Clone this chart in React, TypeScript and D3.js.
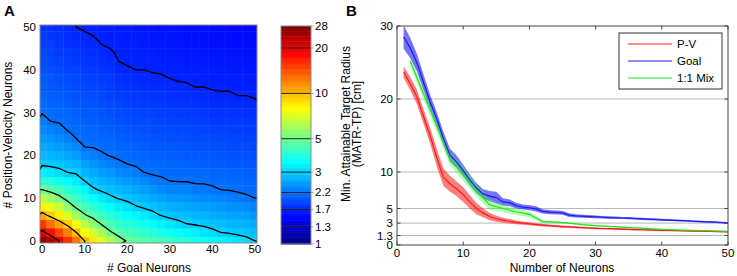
import React from 'react';
import * as d3 from 'd3';

// ---------- Panel A data ----------
const goalNeurons = [0, 2, 4, 6, 8, 10, 12, 14, 16, 18, 20, 22, 24, 26, 28, 30, 32, 34, 36, 38, 40, 42, 44, 46, 48, 50];
const pvNeurons = [0, 2, 4, 6, 8, 10, 12, 14, 16, 18, 20, 22, 24, 26, 28, 30, 32, 34, 36, 38, 40, 42, 44, 46, 48, 50];
// MATR-TP [cm]; one array per goal-neuron count, values along P-V neuron count (0..50)
const matrByGoal: number[][] = [
  [27, 21.4, 15.4, 10.9, 8.3, 6.4, 5.0, 4.07, 3.33, 2.93, 2.78, 2.65, 2.52, 2.40, 2.28, 2.19, 2.15, 2.10, 2.06, 2.02, 1.98, 1.95, 1.91, 1.87, 1.84, 1.80],
  [24, 17.8, 12.8, 9.4, 7.4, 5.8, 4.69, 3.89, 3.23, 2.90, 2.74, 2.60, 2.46, 2.32, 2.20, 2.16, 2.11, 2.07, 2.03, 2.00, 1.96, 1.92, 1.88, 1.85, 1.81, 1.78],
  [20, 14.8, 10.9, 8.5, 6.7, 5.3, 4.4, 3.71, 3.13, 2.87, 2.70, 2.55, 2.40, 2.27, 2.18, 2.13, 2.09, 2.05, 2.01, 1.97, 1.93, 1.89, 1.86, 1.82, 1.79, 1.75],
  [15.8, 12.2, 9.4, 7.3, 5.7, 4.65, 4.02, 3.47, 3.0, 2.81, 2.63, 2.47, 2.31, 2.19, 2.14, 2.10, 2.06, 2.02, 1.98, 1.94, 1.90, 1.87, 1.83, 1.79, 1.76, 1.72],
  [12.6, 10, 7.8, 6.0, 4.84, 4.26, 3.75, 3.30, 2.94, 2.74, 2.55, 2.37, 2.2, 2.15, 2.11, 2.07, 2.03, 1.99, 1.95, 1.91, 1.88, 1.84, 1.80, 1.77, 1.73, 1.70],
  [10, 8.0, 6.4, 5.1, 4.45, 3.90, 3.42, 3.0, 2.78, 2.57, 2.38, 2.2, 2.16, 2.12, 2.08, 2.04, 2.0, 1.96, 1.92, 1.89, 1.85, 1.82, 1.78, 1.75, 1.71, 1.69],
  [8.6, 6.9, 5.6, 4.67, 4.05, 3.52, 3.06, 2.83, 2.65, 2.47, 2.31, 2.19, 2.14, 2.10, 2.06, 2.02, 1.98, 1.94, 1.90, 1.87, 1.83, 1.79, 1.76, 1.72, 1.70, 1.68],
  [7.3, 6.0, 4.9, 4.28, 3.74, 3.27, 2.93, 2.74, 2.56, 2.39, 2.23, 2.16, 2.12, 2.08, 2.04, 2.0, 1.96, 1.92, 1.88, 1.84, 1.80, 1.77, 1.73, 1.70, 1.69, 1.67],
  [6.3, 5.1, 4.48, 3.95, 3.50, 3.09, 2.85, 2.66, 2.48, 2.32, 2.19, 2.14, 2.10, 2.06, 2.01, 1.97, 1.93, 1.89, 1.85, 1.82, 1.78, 1.74, 1.71, 1.69, 1.67, 1.66],
  [5.4, 4.67, 4.16, 3.71, 3.30, 2.97, 2.77, 2.58, 2.40, 2.24, 2.16, 2.11, 2.07, 2.02, 1.98, 1.94, 1.90, 1.85, 1.81, 1.77, 1.74, 1.70, 1.69, 1.68, 1.66, 1.65],
  [4.92, 4.41, 3.95, 3.54, 3.17, 2.90, 2.70, 2.52, 2.36, 2.2, 2.15, 2.10, 2.05, 2.0, 1.96, 1.91, 1.87, 1.83, 1.79, 1.75, 1.71, 1.69, 1.68, 1.67, 1.65, 1.64],
  [4.76, 4.26, 3.80, 3.40, 3.03, 2.81, 2.62, 2.44, 2.28, 2.17, 2.12, 2.08, 2.03, 1.99, 1.94, 1.90, 1.86, 1.82, 1.78, 1.74, 1.70, 1.69, 1.68, 1.66, 1.65, 1.63],
  [4.60, 4.10, 3.66, 3.27, 2.94, 2.74, 2.54, 2.37, 2.2, 2.15, 2.10, 2.06, 2.01, 1.97, 1.93, 1.88, 1.84, 1.80, 1.76, 1.73, 1.70, 1.68, 1.67, 1.65, 1.64, 1.62],
  [4.46, 3.95, 3.52, 3.13, 2.86, 2.65, 2.46, 2.28, 2.17, 2.13, 2.08, 2.04, 2.0, 1.95, 1.91, 1.87, 1.83, 1.79, 1.75, 1.72, 1.69, 1.68, 1.66, 1.65, 1.63, 1.61],
  [4.32, 3.80, 3.36, 2.98, 2.77, 2.58, 2.40, 2.24, 2.16, 2.12, 2.07, 2.03, 1.99, 1.94, 1.90, 1.86, 1.82, 1.78, 1.75, 1.71, 1.69, 1.67, 1.65, 1.64, 1.62, 1.60],
  [4.17, 3.66, 3.21, 2.90, 2.70, 2.52, 2.36, 2.2, 2.15, 2.11, 2.06, 2.02, 1.97, 1.93, 1.89, 1.85, 1.81, 1.77, 1.74, 1.70, 1.68, 1.67, 1.65, 1.63, 1.62, 1.60],
  [4.04, 3.54, 3.10, 2.85, 2.67, 2.50, 2.33, 2.19, 2.14, 2.10, 2.05, 2.01, 1.96, 1.92, 1.88, 1.84, 1.80, 1.76, 1.72, 1.69, 1.68, 1.66, 1.64, 1.63, 1.61, 1.59],
  [3.91, 3.42, 3.0, 2.81, 2.63, 2.47, 2.31, 2.19, 2.14, 2.09, 2.04, 2.0, 1.95, 1.91, 1.87, 1.83, 1.79, 1.75, 1.71, 1.69, 1.67, 1.65, 1.63, 1.62, 1.60, 1.58],
  [3.78, 3.31, 2.95, 2.76, 2.59, 2.42, 2.27, 2.17, 2.12, 2.08, 2.03, 1.99, 1.94, 1.90, 1.86, 1.82, 1.78, 1.74, 1.70, 1.68, 1.67, 1.65, 1.63, 1.61, 1.60, 1.58],
  [3.66, 3.21, 2.91, 2.73, 2.56, 2.40, 2.26, 2.17, 2.12, 2.07, 2.02, 1.98, 1.94, 1.89, 1.85, 1.81, 1.77, 1.73, 1.70, 1.68, 1.66, 1.64, 1.63, 1.61, 1.59, 1.57],
  [3.54, 3.10, 2.86, 2.69, 2.53, 2.38, 2.23, 2.16, 2.11, 2.06, 2.02, 1.97, 1.93, 1.88, 1.84, 1.80, 1.76, 1.72, 1.69, 1.67, 1.66, 1.64, 1.62, 1.60, 1.59, 1.57],
  [3.42, 3.0, 2.82, 2.65, 2.49, 2.34, 2.2, 2.15, 2.10, 2.05, 2.0, 1.96, 1.91, 1.87, 1.83, 1.79, 1.75, 1.71, 1.69, 1.67, 1.65, 1.63, 1.62, 1.60, 1.58, 1.56],
  [3.31, 2.96, 2.78, 2.61, 2.45, 2.31, 2.19, 2.14, 2.09, 2.04, 2.0, 1.95, 1.91, 1.87, 1.83, 1.79, 1.75, 1.71, 1.69, 1.67, 1.65, 1.63, 1.61, 1.60, 1.58, 1.56],
  [3.20, 2.92, 2.74, 2.57, 2.42, 2.27, 2.17, 2.12, 2.08, 2.03, 1.99, 1.94, 1.90, 1.86, 1.82, 1.78, 1.74, 1.70, 1.68, 1.66, 1.64, 1.62, 1.61, 1.59, 1.57, 1.55],
  [3.10, 2.89, 2.71, 2.54, 2.38, 2.23, 2.16, 2.11, 2.07, 2.02, 1.98, 1.93, 1.89, 1.85, 1.81, 1.77, 1.73, 1.70, 1.68, 1.66, 1.64, 1.62, 1.60, 1.59, 1.57, 1.55],
  [3.0, 2.82, 2.65, 2.49, 2.34, 2.2, 2.15, 2.10, 2.06, 2.01, 1.96, 1.92, 1.88, 1.84, 1.80, 1.76, 1.72, 1.69, 1.67, 1.65, 1.63, 1.62, 1.60, 1.58, 1.56, 1.54],
];
const contourLevels = [1.3, 1.7, 2.2, 3, 5, 10, 20];
const colorbarTicks = [1, 1.3, 1.7, 2.2, 3, 5, 10, 20, 28];
const heatTicks = [0, 10, 20, 30, 40, 50];

// ---------- Panel B data ----------
const neuronCount = [1, 2, 3, 4, 5, 6, 7, 8, 9, 10, 11, 12, 13, 14, 15, 16, 17, 18, 19, 20, 21, 22, 23, 24, 25, 26, 27, 28, 29, 30, 31, 32, 33, 34, 35, 36, 37, 38, 39, 40, 41, 42, 43, 44, 45, 46, 47, 48, 49, 50];
const pvMean = [23.7, 22.1, 20.3, 17.6, 15.0, 12.0, 9.3, 8.4, 7.7, 6.9, 5.9, 5.0, 4.4, 3.9, 3.6, 3.4, 3.25, 3.1, 3.0, 2.9, 2.8, 2.72, 2.65, 2.58, 2.52, 2.47, 2.42, 2.38, 2.33, 2.29, 2.26, 2.23, 2.2, 2.17, 2.14, 2.11, 2.09, 2.06, 2.04, 2.01, 1.99, 1.97, 1.95, 1.93, 1.91, 1.89, 1.87, 1.85, 1.83, 1.81];
const pvSem = [0.8, 0.9, 1.0, 1.0, 1.1, 1.2, 1.2, 1.1, 1.0, 1.0, 0.9, 0.8, 0.6, 0.5, 0.4, 0.35, 0.3, 0.25, 0.22, 0.2, 0.18, 0.17, 0.16, 0.15, 0.15, 0.14, 0.14, 0.13, 0.13, 0.12, 0.12, 0.12, 0.12, 0.12, 0.11, 0.11, 0.11, 0.11, 0.11, 0.11, 0.1, 0.1, 0.1, 0.1, 0.1, 0.1, 0.1, 0.1, 0.1, 0.1];
const goalMean = [28.5, 27.0, 25.0, 22.3, 19.6, 17.3, 14.6, 12.3, 11.4, 10.2, 8.9, 7.8, 7.0, 6.7, 6.5, 5.9, 5.8, 5.4, 5.2, 5.1, 4.95, 4.6, 4.5, 4.45, 4.4, 4.1, 4.0, 3.95, 3.9, 3.85, 3.8, 3.76, 3.73, 3.7, 3.67, 3.62, 3.58, 3.54, 3.5, 3.45, 3.42, 3.38, 3.34, 3.3, 3.25, 3.2, 3.16, 3.12, 3.08, 3.04];
const goalSem = [1.6, 1.4, 1.2, 1.1, 1.0, 0.9, 0.9, 0.9, 0.85, 0.8, 0.75, 0.7, 0.65, 0.7, 0.8, 0.5, 0.45, 0.4, 0.35, 0.35, 0.35, 0.3, 0.28, 0.27, 0.26, 0.25, 0.22, 0.2, 0.2, 0.18, 0.18, 0.17, 0.16, 0.15, 0.15, 0.14, 0.14, 0.14, 0.13, 0.13, 0.13, 0.13, 0.12, 0.12, 0.12, 0.12, 0.12, 0.12, 0.12, 0.12];
const mixCount = [2, 4, 6, 8, 10, 12, 14, 16, 18, 20, 22, 24, 26, 28, 30, 32, 34, 36, 38, 40, 42, 44, 46, 48, 50];
const mixMean = [25.2, 20.7, 16.3, 11.8, 9.8, 7.5, 5.5, 5.0, 4.55, 4.2, 3.2, 3.12, 3.0, 2.8, 2.65, 2.55, 2.45, 2.35, 2.24, 2.13, 2.07, 2.02, 1.97, 1.92, 1.88];
const mixSem = [0.6, 0.7, 0.8, 0.9, 1.0, 0.9, 0.7, 0.5, 0.45, 0.4, 0.2, 0.15, 0.13, 0.12, 0.11, 0.1, 0.1, 0.1, 0.1, 0.1, 0.1, 0.1, 0.1, 0.1, 0.1];
const yTicksB = [0, 1.3, 3, 5, 10, 20, 30];
const gridB = [1.3, 3, 5, 10, 20];
const xTicksB = [0, 10, 20, 30, 40, 50];

const seriesB = [
  { name: 'P-V', x: neuronCount, mean: pvMean, sem: pvSem, line: '#ff1a1a', fill: 'rgba(255,20,20,0.55)' },
  { name: 'Goal', x: neuronCount, mean: goalMean, sem: goalSem, line: '#1a1aff', fill: 'rgba(30,30,240,0.62)' },
  { name: '1:1 Mix', x: mixCount, mean: mixMean, sem: mixSem, line: '#1ee61e', fill: 'rgba(60,255,60,0.38)' },
];

const FONT = '"Liberation Sans", Arial, Helvetica, sans-serif';

function jet(t: number): string {
  const c = (v: number) => Math.max(0, Math.min(1, v));
  const r = c(1.5 - Math.abs(4 * t - 3));
  const g = c(1.5 - Math.abs(4 * t - 2));
  const b = c(1.5 - Math.abs(4 * t - 1));
  return `rgb(${Math.round(r * 255)},${Math.round(g * 255)},${Math.round(b * 255)})`;
}

export default function App() {
  // Panel A scales
  const xA = d3.scaleLinear().domain([-0.5, 50.5]).range([40, 257]);
  const yA = d3.scaleLinear().domain([-0.5, 50.5]).range([243, 25]);
  const cNorm = d3.scaleLog().domain([1, 28]).range([0, 1]).clamp(true);
  const step = goalNeurons[1] - goalNeurons[0];
  const half = step / 2;

  const cells: JSX.Element[] = [];
  goalNeurons.forEach((g, i) => {
    pvNeurons.forEach((p, j) => {
      const v = matrByGoal[i][j];
      const x0 = xA(Math.max(g - half, -0.5));
      const x1 = xA(Math.min(g + half, 50.5));
      const y0 = yA(Math.min(p + half, 50.5));
      const y1 = yA(Math.max(p - half, -0.5));
      cells.push(
        <rect key={`c${i}-${j}`} x={x0} y={y0} width={x1 - x0 + 0.4} height={y1 - y0 + 0.4} fill={jet(cNorm(v))} />
      );
    });
  });

  const n = goalNeurons.length;
  const flat: number[] = [];
  for (let j = 0; j < n; j++) for (let i = 0; i < n; i++) flat.push(Math.log10(matrByGoal[i][j]));
  const contours = d3.contours().size([n, n]).thresholds(contourLevels.map(Math.log10))(flat);
  const proj = d3.geoTransform({
    point: function (x: number, y: number) {
      const g = goalNeurons[0] + (x - 0.5) * step;
      const p = pvNeurons[0] + (y - 0.5) * step;
      (this as any).stream.point(xA(g), yA(p));
    },
  });
  const cpath = d3.geoPath(proj);

  // Colorbar
  const cbX = 281, cbW = 30;
  const yCB = d3.scaleLog().domain([1, 28]).range([244, 26]);
  const bands: JSX.Element[] = [];
  const nb = 128;
  for (let k = 0; k < nb; k++) {
    const t0 = k / nb, t1 = (k + 1) / nb;
    const yTop = 244 - (244 - 26) * t1;
    const yBot = 244 - (244 - 26) * t0;
    bands.push(<rect key={`b${k}`} x={cbX} y={yTop} width={cbW} height={yBot - yTop + 0.5} fill={jet((t0 + t1) / 2)} />);
  }

  // Panel B scales
  const xB = d3.scaleLinear().domain([0, 50]).range([397, 728]);
  const yB = d3.scaleLinear().domain([0, 30]).range([245, 26]);
  const area = d3
    .area<number>()
    .x((_, i) => 0)
    .y0(0)
    .y1(0);

  const bandPath = (s: typeof seriesB[0]) =>
    d3
      .area<number>()
      .x((_, i) => xB(s.x[i]))
      .y0((_, i) => yB(s.mean[i] - s.sem[i]))
      .y1((_, i) => yB(s.mean[i] + s.sem[i]))(s.mean) as string;
  const linePath = (s: typeof seriesB[0]) =>
    d3
      .line<number>()
      .x((_, i) => xB(s.x[i]))
      .y((d) => yB(d))(s.mean) as string;
  void area;

  return (
    <div style={{ position: 'absolute', left: 0, top: 0 }}>
      <svg width={737} height={276} style={{ display: 'block', background: '#fff' }} fontFamily={FONT}>
        <defs>
          <clipPath id="clipA">
            <rect x={40} y={25} width={217} height={218} />
          </clipPath>
          <clipPath id="clipB">
            <rect x={397} y={26} width={331} height={219} />
          </clipPath>
        </defs>

        {/* Panel A */}
        <text x={4} y={16} fontSize={15} fontWeight="bold">A</text>
        <g clipPath="url(#clipA)">
          {cells}
          {contours.map((c, k) => (
            <path key={`ct${k}`} d={cpath(c as any) || ''} fill="none" stroke="#000" strokeWidth={1.3} strokeLinejoin="round" />
          ))}
        </g>
        <rect x={40} y={25} width={217} height={218} fill="none" stroke="#8a8a8a" strokeWidth={1} />
        {heatTicks.map((t) => (
          <text key={`ax${t}`} x={xA(t)} y={253} fontSize={11.5} textAnchor="middle">{t}</text>
        ))}
        {heatTicks.map((t) => (
          <text key={`ay${t}`} x={36} y={yA(t) + 4} fontSize={11.5} textAnchor="end">{t}</text>
        ))}
        <text x={149} y={272} fontSize={12} textAnchor="middle"># Goal Neurons</text>
        <text transform="translate(12,135) rotate(-90)" fontSize={12} textAnchor="middle"># Position-Velocity Neurons</text>

        {/* Colorbar */}
        {bands}
        {contourLevels.map((l) => (
          <line key={`cl${l}`} x1={cbX} x2={cbX + cbW} y1={yCB(l)} y2={yCB(l)} stroke="#222" strokeWidth={1} />
        ))}
        <rect x={cbX} y={26} width={cbW} height={218} fill="none" stroke="#8a8a8a" strokeWidth={1} />
        {colorbarTicks.map((t) => (
          <g key={`cbt${t}`}>
            <line x1={cbX + cbW} x2={cbX + cbW + 2.5} y1={yCB(t)} y2={yCB(t)} stroke="#999" />
            <text x={315} y={yCB(t) + 4} fontSize={11.5}>{t}</text>
          </g>
        ))}
        <text transform="translate(350,124) rotate(-90)" fontSize={12} textAnchor="middle">Min. Attainable Target Radius</text>
        <text transform="translate(361,124) rotate(-90)" fontSize={12} textAnchor="middle">(MATR-TP) [cm]</text>

        {/* Panel B */}
        <text x={346} y={16} fontSize={15} fontWeight="bold">B</text>
        {gridB.map((g) => (
          <line key={`gb${g}`} x1={397} x2={728} y1={yB(g)} y2={yB(g)} stroke="#b8b8b8" strokeWidth={1} />
        ))}
        <g clipPath="url(#clipB)">
          {seriesB.map((s) => (
            <path key={`band${s.name}`} d={bandPath(s)} fill={s.fill} stroke="none" />
          ))}
          {seriesB.map((s) => (
            <path key={`line${s.name}`} d={linePath(s)} fill="none" stroke={s.line} strokeWidth={1.2} />
          ))}
        </g>
        <rect x={397} y={26} width={331} height={219} fill="none" stroke="#444" strokeWidth={1} />
        {xTicksB.map((t) => (
          <g key={`bx${t}`}>
            <line x1={xB(t)} x2={xB(t)} y1={245} y2={241.5} stroke="#444" />
            <line x1={xB(t)} x2={xB(t)} y1={26} y2={29.5} stroke="#444" />
            <text x={xB(t)} y={257} fontSize={11.5} textAnchor="middle">{t}</text>
          </g>
        ))}
        {yTicksB.map((t) => (
          <g key={`by${t}`}>
            <line x1={397} x2={400.5} y1={yB(t)} y2={yB(t)} stroke="#444" />
            <line x1={728} x2={724.5} y1={yB(t)} y2={yB(t)} stroke="#444" />
            <text x={393} y={yB(t) + 4} fontSize={11.5} textAnchor="end">{t}</text>
          </g>
        ))}
        <text x={562} y={272} fontSize={12} textAnchor="middle">Number of Neurons</text>

        {/* Legend */}
        <rect x={619} y={33} width={103} height={56} fill="#fff" stroke="#333" strokeWidth={1} />
        {seriesB.map((s, k) => (
          <g key={`lg${s.name}`}>
            <line x1={628} x2={672} y1={44 + k * 17} y2={44 + k * 17} stroke={s.line} strokeWidth={1.2} />
            <text x={677} y={44 + k * 17 + 4} fontSize={11.5}>{s.name}</text>
          </g>
        ))}
      </svg>
    </div>
  );
}
